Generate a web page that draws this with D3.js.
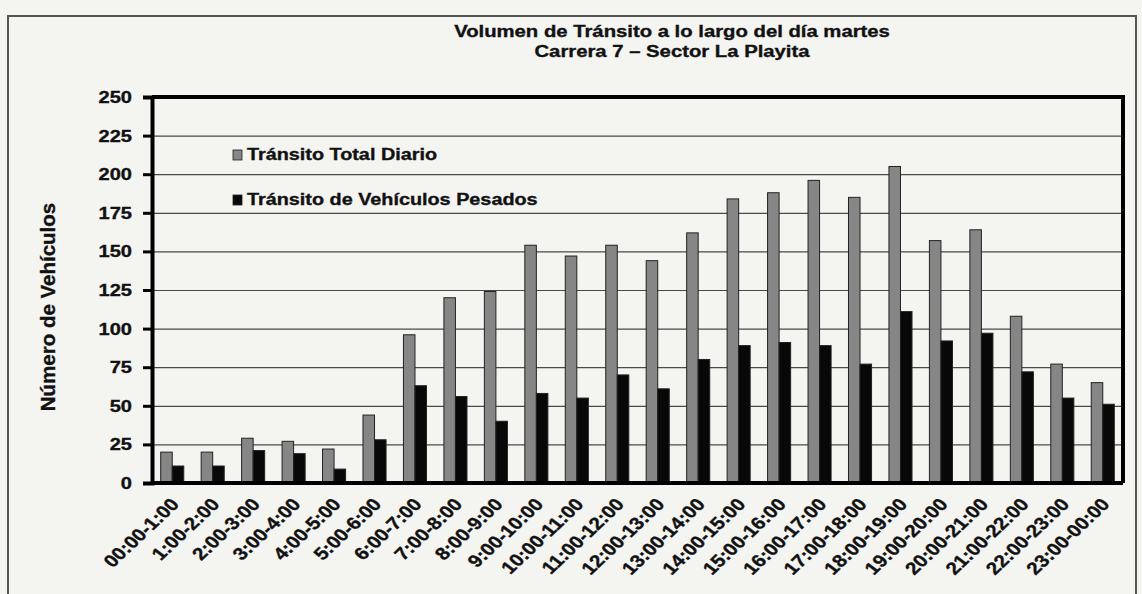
<!DOCTYPE html>
<meta charset="utf-8">
<style>

body {
  margin: 0;
  background: #f4f4f1;
  font-family: "Liberation Sans", Arial, sans-serif;
  font-weight: bold;
}

text {
  stroke: #111;
  stroke-width: 0.35;
}

.grid line {
  stroke: #4a4a4a;
  stroke-width: 1.2;
}

.frame {
  fill: none;
  stroke: #555;
  stroke-width: 2;
}

</style>
<body>
<script src="https://d3js.org/d3.v7.min.js"></script>
<script>

var franjas = ["00:00-1:00", "1:00-2:00", "2:00-3:00", "3:00-4:00", "4:00-5:00", "5:00-6:00",
  "6:00-7:00", "7:00-8:00", "8:00-9:00", "9:00-10:00", "10:00-11:00", "11:00-12:00",
  "12:00-13:00", "13:00-14:00", "14:00-15:00", "15:00-16:00", "16:00-17:00", "17:00-18:00",
  "18:00-19:00", "19:00-20:00", "20:00-21:00", "21:00-22:00", "22:00-23:00", "23:00-00:00"];

var transitoTotal = [20, 20, 29, 27, 22, 44, 96, 120, 124, 154, 147, 154,
  144, 162, 184, 188, 196, 185, 205, 157, 164, 108, 77, 65];

var transitoPesados = [11, 11, 21, 19, 9, 28, 63, 56, 40, 58, 55, 70,
  61, 80, 89, 91, 89, 77, 111, 92, 97, 72, 55, 51];

var series = ["Tránsito Total Diario", "Tránsito de Vehículos Pesados"];
var yTicks = [0, 25, 50, 75, 100, 125, 150, 175, 200, 225, 250];

var colores = ["#868686", "#080808"];
var stretch = 1.18; // the scanned chart is wider than tall

var W = 1142, H = 594;
var margin = {top: 97, right: 19, bottom: 111, left: 152},
    width = W - margin.left - margin.right,
    height = H - margin.top - margin.bottom;

var data = franjas.map(function(f, i) {
  return {franja: f, valores: [transitoTotal[i], transitoPesados[i]]};
});

var root = d3.select("body").append("svg")
    .attr("width", W)
    .attr("height", H);

root.append("rect")
    .attr("class", "frame")
    .attr("x", 8).attr("y", 16)
    .attr("width", 1128).attr("height", 600);

var svg = root.append("g")
    .attr("transform", "translate(" + margin.left + "," + margin.top + ")");

var x0 = d3.scaleBand()
    .domain(franjas)
    .range([0, width])
    .paddingInner(0.43)
    .paddingOuter(0.215);

var x1 = d3.scaleBand()
    .domain([0, 1])
    .range([0, x0.bandwidth()]);

var y = d3.scaleLinear()
    .domain([0, 250])
    .range([height, 0]);

// gridlines
svg.append("g")
    .attr("class", "grid")
    .call(d3.axisLeft(y).tickValues(yTicks.slice(1, -1)).tickSize(-width).tickFormat(""))
    .call(function(g) { g.select(".domain").remove(); });

// bars
var grupo = svg.selectAll(".franja")
    .data(data)
  .enter().append("g")
    .attr("class", "franja")
    .attr("transform", function(d) { return "translate(" + x0(d.franja) + ",0)"; });

grupo.selectAll("rect")
    .data(function(d) { return d.valores.map(function(v, k) { return {k: k, v: v}; }); })
  .enter().append("rect")
    .attr("x", function(d) { return x1(d.k); })
    .attr("y", function(d) { return y(d.v); })
    .attr("width", x1.bandwidth())
    .attr("height", function(d) { return height - y(d.v); })
    .attr("fill", function(d) { return colores[d.k]; })
    .attr("stroke", "#222")
    .attr("stroke-width", 1);

// plot border (top and right)
svg.append("path")
    .attr("d", "M0,0H" + width + "V" + height)
    .attr("fill", "none")
    .attr("stroke", "#000")
    .attr("stroke-width", 4);

// y axis
var yAxis = svg.append("g")
    .call(d3.axisLeft(y).tickValues(yTicks).tickSize(9).tickPadding(11));

yAxis.select(".domain").attr("stroke-width", 4).attr("stroke", "#000");
yAxis.selectAll(".tick line").attr("stroke-width", 3).attr("stroke", "#000");
yAxis.selectAll(".tick text")
    .attr("fill", "#111")
    .style("font-size", "17px")
    .style("font-weight", "bold")
    .style("font-family", "'Liberation Sans', Arial, sans-serif")
    .attr("transform", "scale(" + stretch + ",1)")
    .attr("x", -20 / stretch);

// x axis line
svg.append("line")
    .attr("x1", 0).attr("x2", width)
    .attr("y1", height).attr("y2", height)
    .attr("stroke", "#000")
    .attr("stroke-width", 4);

// x labels
svg.selectAll(".xlab")
    .data(franjas)
  .enter().append("text")
    .attr("class", "xlab")
    .attr("text-anchor", "end")
    .attr("fill", "#111")
    .style("font-size", "17.5px")
    .attr("transform", function(d) {
      return "translate(" + (x0(d) + x0.bandwidth() / 2 + 8) + "," + (height + 22) + ") scale(" + stretch + ",1) rotate(-48)";
    })
    .text(function(d) { return d; });

// y title
root.append("text")
    .attr("text-anchor", "middle")
    .attr("fill", "#111")
    .style("font-size", "20.5px")
    .attr("transform", "translate(55,307) rotate(-90)")
    .text("Número de Vehículos");

// title
var titulo = ["Volumen de Tránsito a lo largo del día martes", "Carrera 7 – Sector La Playita"];
root.selectAll(".titulo")
    .data(titulo)
  .enter().append("text")
    .attr("class", "titulo")
    .attr("text-anchor", "middle")
    .attr("fill", "#111")
    .style("font-size", "17.2px")
    .attr("transform", function(d, i) { return "translate(672," + (37 + i * 20) + ") scale(" + stretch + ",1)"; })
    .text(function(d) { return d; });

// legend
var leyenda = svg.selectAll(".leyenda")
    .data(series)
  .enter().append("g")
    .attr("class", "leyenda")
    .attr("transform", function(d, i) { return "translate(81," + (63 + i * 45) + ")"; });

leyenda.append("rect")
    .attr("x", 0).attr("y", -10)
    .attr("width", 9).attr("height", 10)
    .attr("fill", function(d, i) { return colores[i]; })
    .attr("stroke", "#222")
    .attr("stroke-width", 0.8);

leyenda.append("text")
    .attr("fill", "#111")
    .style("font-size", "16.8px")
    .attr("transform", "translate(14,0) scale(" + stretch + ",1)")
    .text(function(d) { return d; });

</script>
